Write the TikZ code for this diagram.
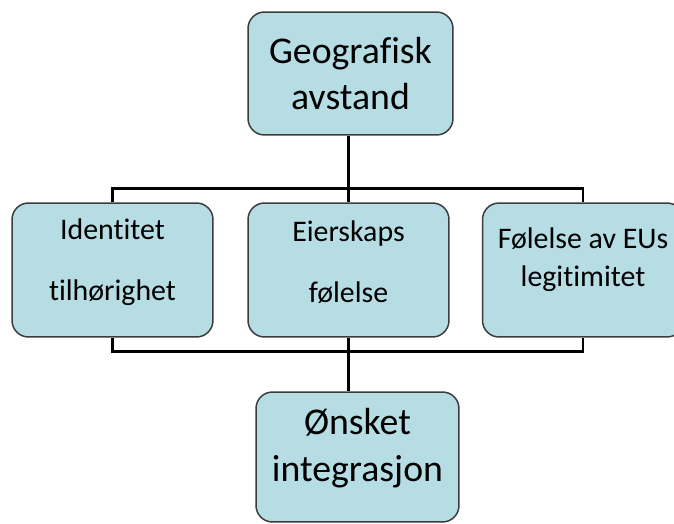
\documentclass[tikz,border=0pt]{standalone}
\usepackage{fontspec}
\setmainfont{Carlito}[Ligatures = NoCommon]
\usetikzlibrary{positioning}

\definecolor{boxblue}{RGB}{183,221,228}
\definecolor{boxedge}{RGB}{60,60,60}

\tikzset{
    box/.style = {draw = boxedge, fill = boxblue, line width = 0.85pt,
                  rounded corners = 0.33cm, inner sep = 0pt},
    bigbox/.style = {box, minimum width = 4.1cm, minimum height = 2.46cm,
                     align = center, font = \fontsize{21.5}{26.5}\selectfont},
    smallbox/.style = {box, minimum width = 4.02cm, minimum height = 2.68cm},
    bigtext/.style = {align = center, inner sep = 0pt,
                      font = \fontsize{21.5}{27}\selectfont},
    smalltext/.style = {align = center, inner sep = 0pt,
                        font = \fontsize{17}{35}\selectfont},
    conn/.style = {line width = 1.5pt, black}
}

\begin{document}
\begin{tikzpicture}[x = 0.02cm, y = -0.02cm]
        \clip (0, 0) rectangle (674, 524);

        \node [bigbox] (geo) at (350.5, 73.5) {Geografisk\\avstand};

        \node [smallbox] (ident) at (112.5, 270) {};
        \node [smallbox] (eier)  at (348.5, 270) {};
        \node [smallbox] (legit) at (583, 270) {};

        \node [smalltext] (identtext) at ([yshift = 0.16cm] ident) {Identitet\\tilhørighet};
        \node [smalltext] (eiertext)  at ([yshift = 0.16cm] eier)  {Eierskaps\\følelse};
        \node [smalltext, font = \fontsize{17}{21.5}\selectfont]
            (legittext) at ([yshift = 0.2cm] legit) {Følelse av EUs\\legitimitet};

        \node [box, minimum width = 4.06cm, minimum height = 2.6cm]
            (onsket) at (357.5, 457) {};
        \node [bigtext] (onskettext) at ([yshift = 0.18cm] onsket) {Ønsket\\integrasjon};

        % top bar
        \draw [conn] (geo.south -| eier.north) -- (eier.north);
        \draw [conn] (ident.north) -- ++(0, -14) -| (legit.north);

        % bottom bar
        \draw [conn] (ident.south) -- ++(0, 14) -| (legit.south);
        \draw [conn] (eier.south) -- (eier.south |- onsket.north);
\end{tikzpicture}
\end{document}
